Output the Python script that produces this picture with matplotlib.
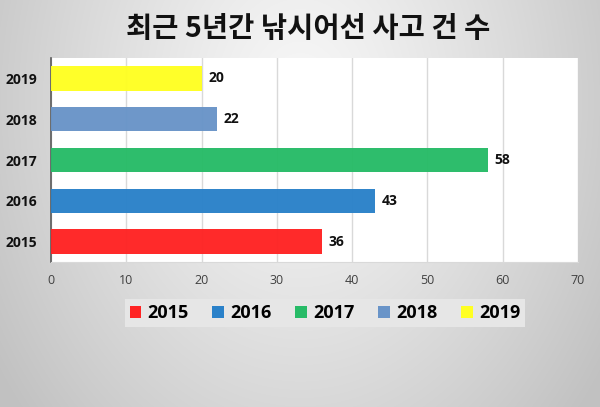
import numpy as np
import matplotlib
matplotlib.use("Agg")
import matplotlib.pyplot as plt
from matplotlib.patches import Patch

plt.rcParams['font.family'] = ['Open Sans', 'Noto Sans CJK KR', 'DejaVu Sans']

# 데이터
years = ['2015', '2016', '2017', '2018', '2019']
counts = [36, 43, 58, 22, 20]
colors = ['#ff2323', '#2a81c9', '#27bb67', '#6994c8', '#ffff22']
title = '최근 5년간 낚시어선 사고 건 수'

fig = plt.figure(figsize=(6.0, 4.07), dpi=100)

# 배경 그라데이션 (방사형)
bg = fig.add_axes([0, 0, 1, 1], zorder=0)
yy, xx = np.mgrid[0:407, 0:600]
r = np.sqrt(((xx - 300) / 320.0) ** 2 + ((yy - 100) / 420.0) ** 2)
v = np.clip(0.97 - 0.18 * r ** 1.2, 0.76, 0.97)
bg.imshow(np.dstack([v, v, v]), aspect='auto', extent=[0, 1, 0, 1])
bg.axis('off')

ax = fig.add_axes([51 / 600, 1 - 262 / 407, 527 / 600, 204 / 407], zorder=1)
ax.set_facecolor('white')

ypos = np.arange(len(years))
bars = ax.barh(ypos, counts, height=0.6, color=colors, alpha=0.97, zorder=3)
ax.bar_label(bars, labels=[str(c) for c in counts], padding=5,
             fontsize=10, fontweight='bold', color='#111111')

ax.set_xlim(0, 70)
ax.set_ylim(-0.5, 4.5)
ax.set_xticks(np.arange(0, 71, 10))
ax.set_yticks(ypos)
ax.set_yticklabels(years, fontsize=10, fontweight='bold', color='#111111')
ax.tick_params(axis='x', labelsize=9, colors='#404040', length=0, pad=9)
ax.tick_params(axis='y', length=0, pad=10)
ax.grid(axis='x', color='#d9d9d9', linewidth=1, zorder=0)
for s in ['top', 'right']:
    ax.spines[s].set_visible(False)
ax.spines['bottom'].set_color('#d9d9d9')
ax.spines['left'].set_color('#595959')
ax.spines['left'].set_linewidth(1.2)

fig.text(308 / 600, 1 - 29 / 407, title, ha='center', va='center',
         fontsize=20.5, fontweight='bold', color='#111111',
         family=['Noto Sans CJK KR', 'DejaVu Sans'])

handles = [Patch(facecolor=c, edgecolor='none') for c in colors]
leg = fig.legend(handles, years, loc='center', bbox_to_anchor=(325 / 600, 1 - 313 / 407),
                 ncol=5, frameon=True, fancybox=False,
                 prop={'weight': 'bold', 'size': 13}, handlelength=0.65, handleheight=0.65,
                 handletextpad=0.35, columnspacing=1.3, borderpad=0.25, borderaxespad=0)
leg.get_frame().set_facecolor('#e6e6e6')
leg.get_frame().set_edgecolor('none')
leg.get_frame().set_alpha(1)

fig.savefig('out.png', dpi=100)
